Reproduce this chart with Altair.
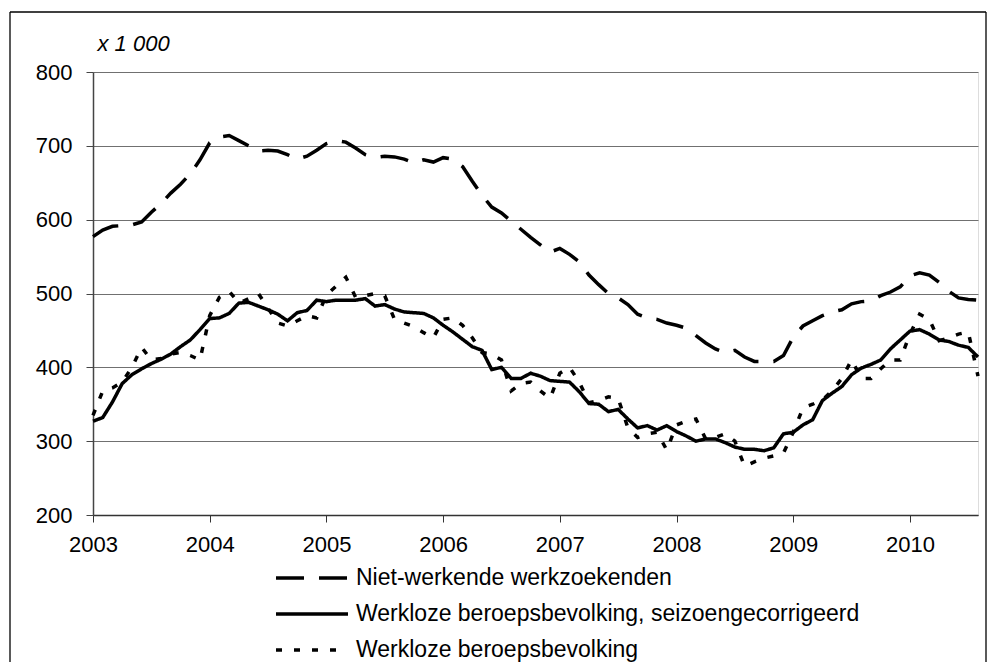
import altair as alt
import pandas as pd

# Monthly values, Jan 2003 .. Aug 2010 (x 1 000)
nww = [577, 586, 591, 592, 593, 597, 610, 622, 636, 648, 662, 681,
       704, 712, 714, 707, 700, 693, 694, 693, 688, 682, 686, 694,
       703, 707, 705, 697, 688, 684, 686, 685, 682, 677, 681, 678,
       684, 682, 672, 652, 633, 617, 609, 598, 587, 576, 566, 556,
       561, 553, 543, 525, 512, 500, 494, 485, 472, 467, 465, 460,
       457, 453, 443, 433, 425, 420, 423, 414, 408, 408, 408, 416,
       441, 456, 463, 470, 475, 478, 486, 489, 490, 497, 502, 509,
       524, 528, 525, 515, 503, 494, 492, 491]

wbb_sc = [327, 332, 353, 378, 390, 398, 405, 411, 418, 428, 437, 451,
          466, 467, 473, 487, 488, 483, 478, 472, 463, 474, 477, 491,
          489, 491, 491, 491, 493, 483, 485, 479, 475, 474, 473, 467,
          457, 448, 438, 428, 423, 397, 400, 385, 385, 392, 388, 382,
          381, 380, 367, 351, 350, 340, 343, 330, 318, 321, 315, 321,
          313, 307, 300, 303, 303, 298, 292, 289, 289, 287, 291, 310,
          312, 322, 329, 355, 365, 374, 390, 399, 404, 410, 425, 437,
          449, 451, 445, 437, 435, 430, 427, 414]

wbb = [335, 368, 372, 380, 400, 427, 410, 412, 418, 420, 416, 410,
       470, 495, 503, 487, 493, 500, 480, 460, 456, 463, 470, 467,
       498, 510, 522, 495, 497, 500, 497, 465, 460, 455, 447, 440,
       465, 467, 457, 440, 420, 418, 410, 368, 378, 380, 368, 358,
       392, 400, 380, 352, 355, 360, 358, 318, 305, 310, 312, 288,
       322, 327, 330, 303, 305, 310, 300, 266, 272, 277, 280, 284,
       312, 345, 350, 356, 368, 385, 410, 385, 385, 398, 410, 410,
       445, 472, 465, 436, 440, 445, 448, 388]

series_names = ["Niet-werkende werkzoekenden",
                "Werkloze beroepsbevolking, seizoengecorrigeerd",
                "Werkloze beroepsbevolking"]
year_ticks = [2003, 2004, 2005, 2006, 2007, 2008, 2009, 2010]
y_ticks = [200, 300, 400, 500, 600, 700, 800]

months = [2003 + i / 12 for i in range(len(nww))]
rows = []
for name, vals in zip(series_names, [nww, wbb_sc, wbb]):
    for m, v in zip(months, vals):
        rows.append({"t": m, "v": v, "serie": name})
df = pd.DataFrame(rows)

FONT = "Liberation Sans"
W, H = 885, 443
PL, PT, PR, PB = 85, 64, 9, 147
RIGHT = W + PR - 1  # frame right edge, relative to plot origin

lines = alt.Chart(df).mark_line(color="black", strokeWidth=3.5, clip=False).encode(
    x=alt.X("t:Q", scale=alt.Scale(domain=[2003, months[-1]], nice=False, zero=False),
            axis=alt.Axis(values=year_ticks, format="d", title=None, grid=False,
                          labelFlush=False, labelOverlap=False, labelFontSize=22,
                          labelFont=FONT, labelColor="black", tickSize=7, labelPadding=12,
                          domainColor="#333", tickColor="#333", domainWidth=1.5)),
    y=alt.Y("v:Q", scale=alt.Scale(domain=[200, 800], nice=False, zero=False),
            axis=alt.Axis(values=y_ticks, title="x 1 000", titleAngle=0, titleX=4, titleY=-29,
                          titleAlign="left", titleBaseline="middle", titleFontStyle="italic",
                          titleFontWeight="normal", titleFontSize=22, titleFont=FONT,
                          labelFlush=False, labelFontSize=22, labelFont=FONT, labelColor="black",
                          tickSize=7, labelPadding=14, gridColor="#707070", gridWidth=1,
                          domainColor="#444", tickColor="#444", domainWidth=1.5)),
    strokeDash=alt.StrokeDash("serie:N",
        scale=alt.Scale(domain=series_names, range=[[28, 15], [1, 0], [6, 12]]),
        legend=alt.Legend(orient="none", legendX=229, legendY=492, title=None,
                          direction="vertical", symbolType="M-5,0H1", symbolSize=576,
                          symbolStrokeWidth=3.5, symbolStrokeColor="black",
                          labelFontSize=23, labelFont=FONT, labelColor="black",
                          labelOffset=6, rowPadding=10, padding=0, labelLimit=0)),
)

one = pd.DataFrame({"a": [0]})
frame_left = alt.Chart(one).mark_rule(color="black", strokeWidth=1.3, clip=False).encode(
    x=alt.value(-83), y=alt.value(-60), y2=alt.value(H + PB))
frame_top = alt.Chart(one).mark_rule(color="black", strokeWidth=1.3, clip=False).encode(
    x=alt.value(-83), x2=alt.value(RIGHT), y=alt.value(-60))
frame_right = alt.Chart(one).mark_rule(color="black", strokeWidth=1.3, clip=False).encode(
    x=alt.value(RIGHT), y=alt.value(-60), y2=alt.value(H + PB))

chart = alt.layer(lines, frame_left, frame_top, frame_right).properties(
    width=W, height=H,
    autosize=alt.AutoSizeParams(type="none"),
    padding={"left": PL, "top": PT, "right": PR, "bottom": PB},
).configure_view(stroke="#888", strokeWidth=1).configure(background="white")

chart.save("out.html", embed_options={"renderer": "svg", "actions": False})
